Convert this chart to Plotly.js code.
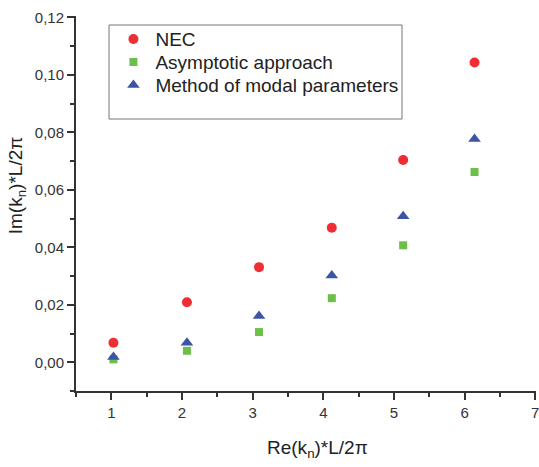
<!DOCTYPE html>
<html><head><meta charset="utf-8">
<script src="https://cdn.plot.ly/plotly-3.0.1.min.js"></script>
<style>html,body{margin:0;padding:0;background:#fff}</style>
</head><body>
<div id="chart" style="width:539px;height:467px"></div>
<script>
const seriesNames = ["NEC", "Asymptotic approach", "Method of modal parameters"];
const reNEC = [1.03, 2.07, 3.09, 4.12, 5.13, 6.14];
const imNEC = [0.0068, 0.0209, 0.0331, 0.0468, 0.0704, 0.1043];
const reAsym = [1.03, 2.07, 3.09, 4.12, 5.13, 6.14];
const imAsym = [0.0010, 0.0040, 0.0105, 0.0223, 0.0407, 0.0662];
const reModal = [1.03, 2.07, 3.09, 4.12, 5.13, 6.14];
const imModal = [0.0018, 0.0068, 0.0161, 0.0302, 0.0508, 0.0777];
const xTickVals = [1, 2, 3, 4, 5, 6, 7];
const xTitle = "Re(k<sub>n</sub>)*L/2π";
const yTitle = "Im(k<sub>n</sub>)*L/2π";

const fontFam = "Liberation Sans, Arial, sans-serif";
const traces = [
  {x: reNEC, y: imNEC, name: seriesNames[0], mode: "markers", type: "scatter",
   marker: {symbol: "circle", size: 10, color: "#ee2e32"}},
  {x: reAsym, y: imAsym, name: seriesNames[1], mode: "markers", type: "scatter",
   marker: {symbol: "square", size: 8, color: "#6cbf4a"}},
  {x: reModal, y: imModal, name: seriesNames[2], mode: "markers", type: "scatter",
   marker: {symbol: "triangle-up", size: 11, color: "#3b55a3"}}
];
const axCommon = {
  showline: true, linecolor: "#333", linewidth: 2, showgrid: false, zeroline: false,
  ticks: "outside", ticklen: 7, tickwidth: 2, tickcolor: "#333",
  ticklabeloverflow: "allow",
  tickfont: {family: fontFam, size: 15, color: "#333"}
};
const layout = {
  width: 539, height: 467,
  margin: {l: 76, r: 3, t: 16, b: 76},
  paper_bgcolor: "#fff", plot_bgcolor: "#fff",
  separators: ",.",
  showlegend: true,
  legend: {x: 0.077, y: 0.989, xanchor: "left", yanchor: "top",
    bgcolor: "rgba(0,0,0,0)", borderwidth: 0, itemwidth: 34,
    font: {family: fontFam, size: 19, color: "#222"}, tracegroupgap: 0},
  xaxis: Object.assign({}, axCommon, {
    range: [0.5, 7.01], tickvals: xTickVals, ticktext: xTickVals.map(String),
    minor: {dtick: 0.5, tick0: 0.5, ticklen: 4, tickwidth: 2, tickcolor: "#333", ticks: "outside"}
  }),
  yaxis: Object.assign({}, axCommon, {
    range: [-0.01, 0.1205], tick0: 0, dtick: 0.02, tickformat: ".2f",
    minor: {dtick: 0.01, tick0: 0.01, ticklen: 4, tickwidth: 2, tickcolor: "#333", ticks: "outside"}
  }),
  annotations: [
    {text: xTitle, xref: "paper", yref: "paper", x: 0.526, y: -0.155, xanchor: "center", yanchor: "middle",
     showarrow: false, font: {family: fontFam, size: 19, color: "#222"}},
    {text: yTitle, xref: "paper", yref: "paper", x: -0.128, y: 0.549, xanchor: "center", yanchor: "middle",
     textangle: -90, showarrow: false, font: {family: fontFam, size: 19, color: "#222"}}
  ],
  shapes: [{type: "rect", xref: "paper", yref: "paper",
    x0: (109 - 76) / 460, x1: (402 - 76) / 460, y0: (391 - 119) / 375, y1: (391 - 25) / 375,
    line: {color: "#777", width: 1}, fillcolor: "rgba(0,0,0,0)"}]
};
Plotly.newPlot("chart", traces, layout, {displayModeBar: false, staticPlot: true}).then(function (gd) {
  // tighten legend row spacing to match the reference (23px rows)
  const items = gd.querySelectorAll(".legend .traces");
  if (!items.length) return;
  const m = /translate\(\s*([-\d.]+)[ ,]+([-\d.]+)\s*\)/.exec(items[0].getAttribute("transform") || "");
  if (!m) return;
  const x0 = parseFloat(m[1]), y0 = parseFloat(m[2]);
  items.forEach(function (g, i) {
    g.setAttribute("transform", "translate(" + x0 + "," + (y0 + i * 23) + ")");
  });
});
</script>
</body></html>
